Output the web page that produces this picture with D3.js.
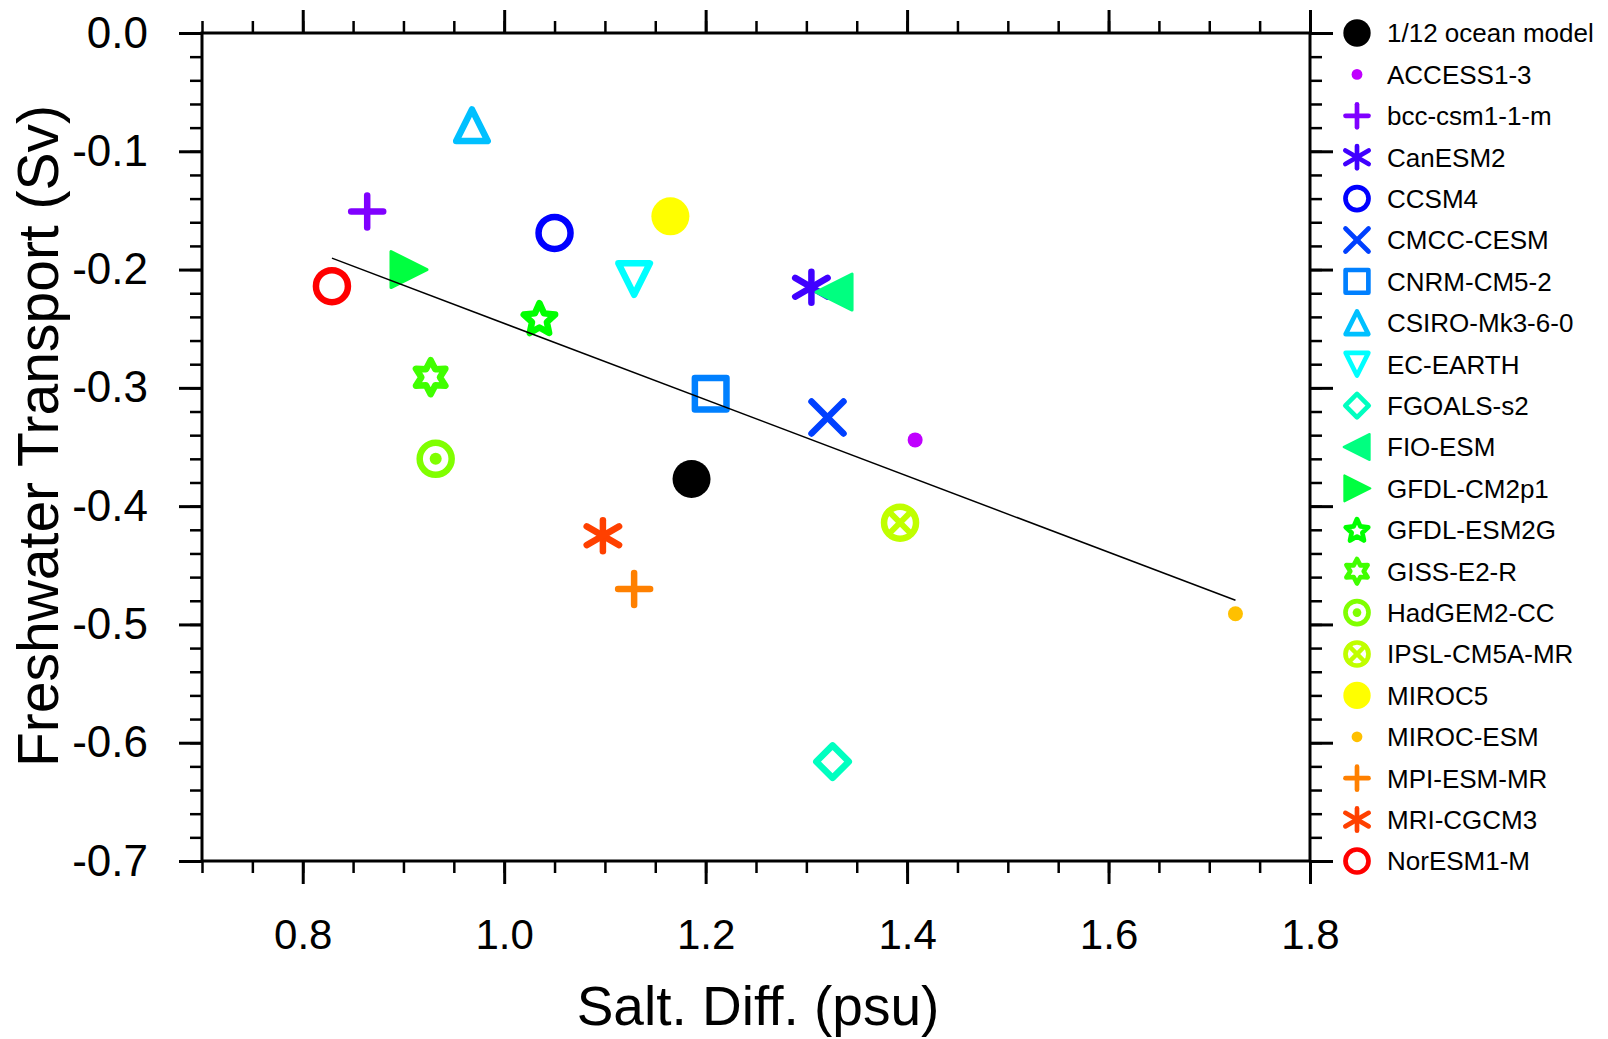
<!DOCTYPE html>
<html>
<head>
<meta charset="utf-8">
<script src="https://cdn.jsdelivr.net/npm/d3@7"></script>
<style>
    body { margin: 0; background: #ffffff; }
    text { font-family: "Liberation Sans", Arial, Helvetica, sans-serif; fill: #000000; }
</style>
</head>
<body>
<svg id="fwPlot" width="1608" height="1039"></svg>
<script>
// values
var models = ["1/12 ocean model", "ACCESS1-3", "bcc-csm1-1-m", "CanESM2", "CCSM4", "CMCC-CESM",
              "CNRM-CM5-2", "CSIRO-Mk3-6-0", "EC-EARTH", "FGOALS-s2", "FIO-ESM", "GFDL-CM2p1",
              "GFDL-ESM2G", "GISS-E2-R", "HadGEM2-CC", "IPSL-CM5A-MR", "MIROC5", "MIROC-ESM",
              "MPI-ESM-MR", "MRI-CGCM3", "NorESM1-M"];
var saltDiff = [1.186, 1.408, 0.864, 1.305, 1.050, 1.321, 1.205, 0.968, 1.129, 1.326, 1.328,
                0.905, 1.035, 0.927, 0.932, 1.393, 1.165, 1.726, 1.129, 1.098, 0.829];
var fwTransport = [-0.377, -0.344, -0.151, -0.215, -0.169, -0.325, -0.305, -0.078, -0.208, -0.616, -0.219,
                   -0.200, -0.241, -0.291, -0.360, -0.414, -0.155, -0.491, -0.470, -0.425, -0.214];
var markerTypes = ["filledCircle", "dot", "plus", "asterisk", "circle", "cross", "square", "triUp",
                   "triDown", "diamond", "triLeft", "triRight", "star", "hexagram", "circleDot",
                   "circleX", "filledCircle", "dot", "plus", "asterisk", "circle"];
var markerColors = ["#000000", "#c000ff", "#8000ff", "#4000ff", "#0000ff", "#0040ff", "#0080ff",
                    "#00c0ff", "#00ffff", "#00ffc0", "#00ff80", "#00ff40", "#00ff00", "#40ff00",
                    "#80ff00", "#c0ff00", "#ffff00", "#ffc000", "#ff8000", "#ff4000", "#ff0000"];
var xMajorTicks = [0.8, 1.0, 1.2, 1.4, 1.6, 1.8];
var yMajorTicks = [0.0, -0.1, -0.2, -0.3, -0.4, -0.5, -0.6, -0.7];
var xMinorTicks = d3.range(0, 23).map(function(i){ return 0.7 + i * 0.05; });
var yMinorTicks = d3.range(0, 36).map(function(i){ return -i * 0.02; });

// frame edges (window.top is read-only, so no bare "top")
var frameL = 202, frameR = 1310, frameT = 33, frameB = 861;
var fontStack = '"Liberation Sans", Arial, Helvetica, sans-serif';

var svg = d3.select("#fwPlot");

var x = d3.scaleLinear().domain([0.7, 1.8]).range([frameL, frameR]);
var y = d3.scaleLinear().domain([-0.7, 0.0]).range([frameB, frameT]);

function fmt(d){ return (Math.abs(d) < 1e-9 ? 0 : d).toFixed(1); }

// ---- axes, ticks point outward on all four sides
function styleAxis(g, width){
    g.select(".domain").remove();
    g.selectAll(".tick line").attr("stroke", "#000").attr("stroke-width", width);
}

svg.append("g").attr("transform", "translate(" + frameL + ",0)")
    .call(d3.axisLeft(y).tickValues(yMinorTicks).tickSize(12).tickFormat(""))
    .call(styleAxis, 2.5);
svg.append("g").attr("transform", "translate(" + frameL + ",0)")
    .call(d3.axisLeft(y).tickValues(yMajorTicks).tickSize(23).tickPadding(31).tickFormat(fmt))
    .call(styleAxis, 3)
    .selectAll("text").style("font-family", fontStack).style("font-size", "44px");

svg.append("g").attr("transform", "translate(" + frameR + ",0)")
    .call(d3.axisRight(y).tickValues(yMinorTicks).tickSize(12).tickFormat(""))
    .call(styleAxis, 2.5);
svg.append("g").attr("transform", "translate(" + frameR + ",0)")
    .call(d3.axisRight(y).tickValues(yMajorTicks).tickSize(23).tickFormat(""))
    .call(styleAxis, 3);

svg.append("g").attr("transform", "translate(0," + frameT + ")")
    .call(d3.axisTop(x).tickValues(xMinorTicks).tickSize(12).tickFormat(""))
    .call(styleAxis, 2.5);
svg.append("g").attr("transform", "translate(0," + frameT + ")")
    .call(d3.axisTop(x).tickValues(xMajorTicks).tickSize(23).tickFormat(""))
    .call(styleAxis, 3);

svg.append("g").attr("transform", "translate(0," + frameB + ")")
    .call(d3.axisBottom(x).tickValues(xMinorTicks).tickSize(12).tickFormat(""))
    .call(styleAxis, 2.5);
svg.append("g").attr("transform", "translate(0," + frameB + ")")
    .call(d3.axisBottom(x).tickValues(xMajorTicks).tickSize(23).tickPadding(35).tickFormat(fmt))
    .call(styleAxis, 3)
    .selectAll("text").style("font-family", fontStack).style("font-size", "42px");

svg.append("rect")
    .attr("x", frameL).attr("y", frameT)
    .attr("width", frameR - frameL).attr("height", frameB - frameT)
    .attr("fill", "none").attr("stroke", "#000").attr("stroke-width", 3);

// axis titles
svg.append("text")
    .attr("transform", "translate(58," + ((frameT + frameB) / 2 - 11) + ") rotate(-90)")
    .attr("text-anchor", "middle")
    .style("font-size", "57px")
    .text("Freshwater Transport (Sv)");

svg.append("text")
    .attr("x", (frameL + frameR) / 2 + 2).attr("y", 1025)
    .attr("text-anchor", "middle")
    .style("font-size", "55px")
    .text("Salt. Diff. (psu)");

// ---- marker shapes, drawn round (0,0)
function drawMarker(g, type, color){
    var w = 6.5;
    function seg(x1, y1, x2, y2, sw){
        g.append("line")
            .attr("x1", x1).attr("y1", y1).attr("x2", x2).attr("y2", y2)
            .attr("stroke", color).attr("stroke-width", sw || w)
            .attr("stroke-linecap", "round");
    }
    function poly(pts, filled){
        g.append("path")
            .attr("d", "M" + pts.map(function(p){ return p[0].toFixed(2) + "," + p[1].toFixed(2); }).join("L") + "Z")
            .attr("fill", filled ? color : "none")
            .attr("stroke", color)
            .attr("stroke-width", filled ? 3 : w)
            .attr("stroke-linejoin", "round");
    }
    function ring(r){
        g.append("circle").attr("r", r).attr("fill", "none")
            .attr("stroke", color).attr("stroke-width", w);
    }
    function starPts(n, R, r, dy){
        return d3.range(0, 2 * n).map(function(i){
            var a = -Math.PI / 2 + i * Math.PI / n, rr = (i % 2 === 0) ? R : r;
            return [rr * Math.cos(a), rr * Math.sin(a) + dy];
        });
    }
    switch (type) {
        case "filledCircle": g.append("circle").attr("r", 19).attr("fill", color); break;
        case "dot": g.append("circle").attr("r", 7.5).attr("fill", color); break;
        case "plus": seg(-16, 0, 16, 0); seg(0, -16, 0, 16); break;
        case "asterisk": seg(0, -15.5, 0, 15.5); seg(-16.2, -9.4, 16.2, 9.4); seg(-16.2, 9.4, 16.2, -9.4); break;
        case "circle": ring(16); break;
        case "cross": seg(-16, -16, 16, 16); seg(-16, 16, 16, -16); break;
        case "square": poly([[-15.8, -15.8], [15.8, -15.8], [15.8, 15.8], [-15.8, 15.8]]); break;
        case "triUp": poly([[0, -15.75], [15.75, 15.75], [-15.75, 15.75]]); break;
        case "triDown": poly([[0, 15.75], [15.75, -15.75], [-15.75, -15.75]]); break;
        case "diamond": poly([[0, -16.25], [16.25, 0], [0, 16.25], [-16.25, 0]]); break;
        case "triLeft": poly([[-18.5, 0], [17.5, -18], [17.5, 18]], true); break;
        case "triRight": poly([[18.5, 0], [-17.5, -18], [-17.5, 18]], true); break;
        case "star": poly(starPts(5, 16.5, 7.8, 1.6)); break;
        case "hexagram": poly(starPts(6, 17, 9.3, 0)); break;
        case "circleDot": ring(16); g.append("circle").attr("r", 6).attr("fill", color); break;
        case "circleX": ring(16); seg(-11.3, -11.3, 11.3, 11.3, 6); seg(-11.3, 11.3, 11.3, -11.3, 6); break;
    }
}

// ---- scatter markers
var plotPts = svg.append("g").attr("class", "fwMarkers");
models.forEach(function(m, i){
    var g = plotPts.append("g")
        .attr("transform", "translate(" + x(saltDiff[i]) + "," + y(fwTransport[i]) + ")");
    drawMarker(g, markerTypes[i], markerColors[i]);
});

// least-squares fit through the CMIP5 models (the 1/12 ocean model left out)
var fitIdx = d3.range(1, models.length);
var mx = d3.mean(fitIdx, function(i){ return saltDiff[i]; });
var my = d3.mean(fitIdx, function(i){ return fwTransport[i]; });
var slope = d3.sum(fitIdx, function(i){ return (saltDiff[i] - mx) * (fwTransport[i] - my); }) /
            d3.sum(fitIdx, function(i){ return (saltDiff[i] - mx) * (saltDiff[i] - mx); });
var xFit = d3.extent(fitIdx, function(i){ return saltDiff[i]; });

svg.append("path")
    .datum(xFit)
    .attr("d", d3.line()
        .x(function(d){ return x(d); })
        .y(function(d){ return y(my + slope * (d - mx)); }))
    .attr("fill", "none")
    .attr("stroke", "#000")
    .attr("stroke-width", 1.5);

// ---- legend, rows spread over the frame height
var rowStep = (frameB - frameT) / (models.length - 1);
var legend = svg.append("g").attr("class", "fwLegend");
models.forEach(function(m, i){
    var ly = frameT + i * rowStep;
    var g = legend.append("g")
        .attr("transform", "translate(1357," + ly + ") scale(0.72)");
    drawMarker(g, markerTypes[i], markerColors[i]);
    legend.append("text")
        .attr("x", 1387).attr("y", ly)
        .attr("dy", "0.36em")
        .style("font-size", "26px")
        .text(m);
});
</script>
</body>
</html>
